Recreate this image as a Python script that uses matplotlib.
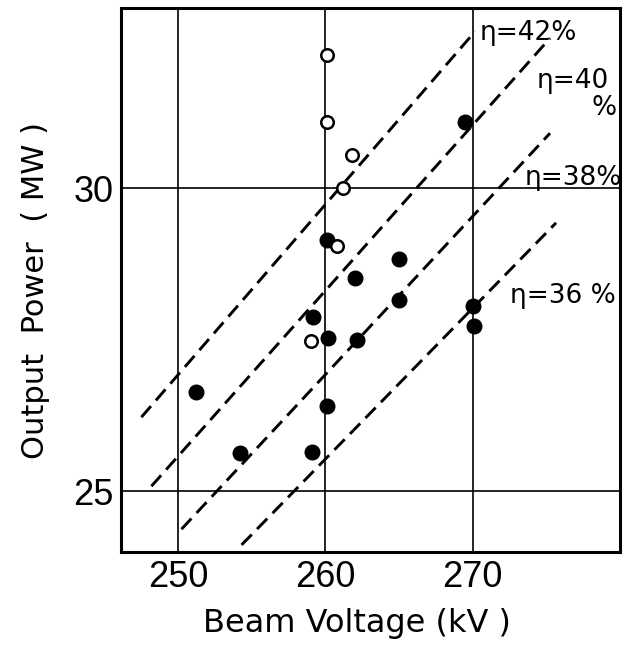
import numpy as np
import matplotlib
matplotlib.use('Agg')
import matplotlib.pyplot as plt

# measured points (kV, MW)
solid_v = [260.08, 265.01, 262.0, 265.01, 259.13, 260.15, 262.12, 270.0, 270.09,
           251.25, 260.08, 254.19, 259.06, 269.45]
solid_p = [29.15, 28.83, 28.52, 28.16, 27.88, 27.53, 27.50, 28.05, 27.73,
           26.63, 26.40, 25.63, 25.64, 31.10]
open_v = [260.1, 260.1, 261.78, 261.2, 260.8, 259.0]
open_p = [32.2, 31.10, 30.55, 30.0, 29.04, 27.47]

# constant-efficiency lines: (V_lo, P_lo, V_hi, P_hi)
eta_names = ['42', '40', '38', '36']
eta_v = [(247.51, 270.16), (248.19, 275.25), (250.23, 275.25), (254.31, 275.66)]
eta_p = [(26.22, 32.59), (25.08, 32.48), (24.37, 30.91), (24.11, 29.43)]

# label text and anchor (left edge, baseline)
eta_text = ['η=42%', 'η=40', 'η=38%', 'η=36 %']
eta_lx = [270.45, 274.35, 273.55, 272.53]
eta_ly = [32.455, 31.65, 30.05, 28.11]

xticks = [250, 260, 270]
yticks = [25, 30]

fig = plt.figure(figsize=(6.25, 6.52), dpi=100)
ax = fig.add_axes([0.193, 0.154, 0.799, 0.833])

for t in xticks:
    ax.axvline(t, color='black', lw=1.2, zorder=1)
for t in yticks:
    ax.axhline(t, color='black', lw=1.2, zorder=1)

for v, p in zip(eta_v, eta_p):
    ax.plot(v, p, color='black', lw=2.1, linestyle=(0, (5, 2.6)),
            dash_capstyle='butt', zorder=2)

ax.plot(solid_v, solid_p, 'o', color='black', ms=10.5, zorder=3, linestyle='none')
ax.plot(open_v, open_p, 'o', mfc='white', mec='black', mew=1.8, ms=9,
        zorder=3, linestyle='none')

for txt, lx, ly in zip(eta_text, eta_lx, eta_ly):
    ax.text(lx, ly, txt, fontsize=19, family='DejaVu Sans',
            ha='left', va='baseline', zorder=4)
ax.text(278.08, 31.21, '%', fontsize=19, family='DejaVu Sans',
        ha='left', va='baseline', zorder=4)

ax.set_xlim(246.1, 280.0)
ax.set_ylim(24.0, 32.97)
ax.set_xticks(xticks)
ax.set_yticks(yticks)
ax.tick_params(length=0, labelsize=26)
ax.tick_params(axis='x', pad=6)
ax.tick_params(axis='y', pad=5)
for lab in ax.get_xticklabels() + ax.get_yticklabels():
    lab.set_family('Liberation Sans')
for s in ax.spines.values():
    s.set_linewidth(2.2)

ax.set_xlabel('Beam Voltage (kV )', fontsize=23, family='DejaVu Sans')
ax.set_ylabel('Output  Power  ( MW )', fontsize=22, family='DejaVu Sans')
ax.xaxis.set_label_coords(0.474, -0.104)
ax.yaxis.set_label_coords(-0.142, 0.4816)

fig.savefig('out.png', dpi=100)
